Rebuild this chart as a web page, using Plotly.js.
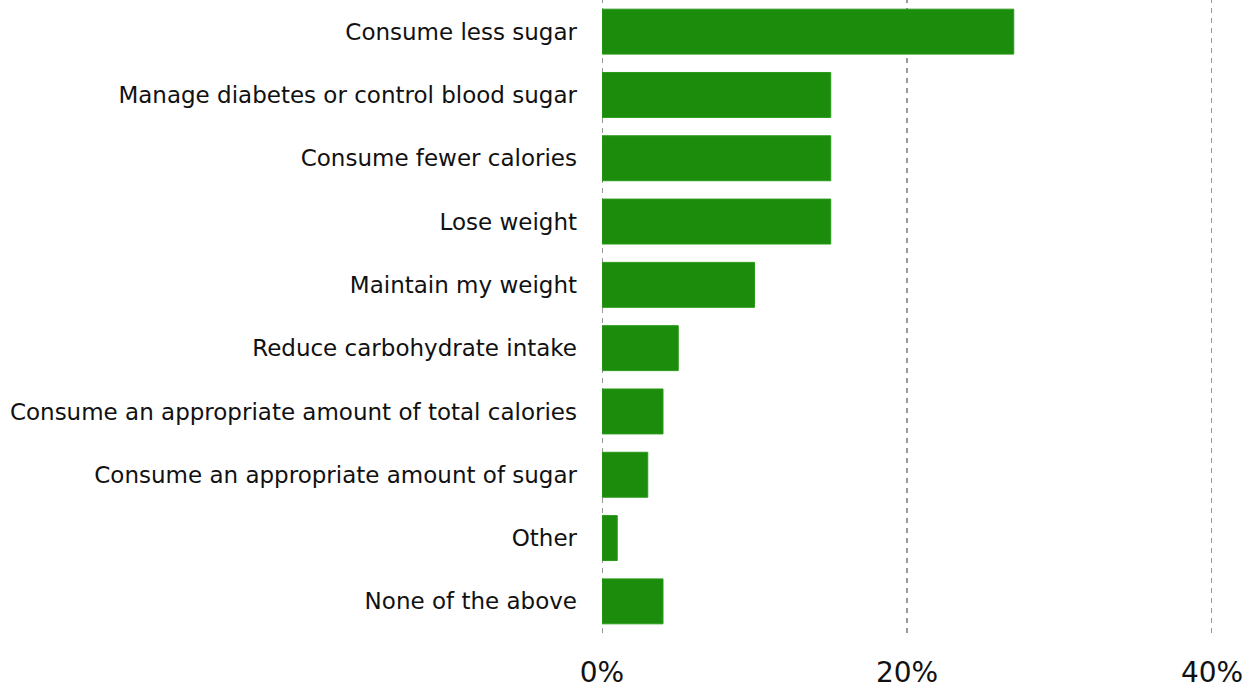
<!DOCTYPE html>
<html>
<head>
<meta charset="utf-8">
<script src="https://cdn.plot.ly/plotly-3.0.1.min.js"></script>
<style>html,body{margin:0;padding:0;background:#fff;}#chart{width:1247px;height:691px;}</style>
</head>
<body>
<div id="chart"></div>
<script>
const categories = [
  "Consume less sugar",
  "Manage diabetes or control blood sugar",
  "Consume fewer calories",
  "Lose weight",
  "Maintain my weight",
  "Reduce carbohydrate intake",
  "Consume an appropriate amount of total calories",
  "Consume an appropriate amount of sugar",
  "Other",
  "None of the above"
];
const values = [27, 15, 15, 15, 10, 5, 4, 3, 1, 4];
const tickVals = [0, 20, 40];
const tickText = ["0%", "20%", "40%"];

const trace = {
  type: 'bar',
  orientation: 'h',
  y: categories,
  x: values,
  marker: {color: '#1b8c0b', line: {color: '#2a9a1a', width: 1}},
  hoverinfo: 'x+y'
};

const gridShapes = tickVals.map(v => ({
  type: 'line', xref: 'x', yref: 'paper',
  x0: v, x1: v, y0: 0, y1: 1,
  layer: 'below',
  line: {color: '#999999', width: 2, dash: '5px,5px'}
}));

const layout = {
  width: 1247, height: 691,
  margin: {l: 602, r: 35, t: 0, b: 58},
  paper_bgcolor: '#fff', plot_bgcolor: '#fff',
  bargap: 0.29,
  showlegend: false,
  shapes: gridShapes,
  xaxis: {
    range: [0, 40],
    tickvals: tickVals,
    ticktext: tickText,
    showgrid: false,
    zeroline: false,
    showline: false,
    ticks: '',
    ticklabelstandoff: 20,
    tickfont: {family: '"DejaVu Sans", sans-serif', size: 28, color: '#111'},
    fixedrange: true
  },
  yaxis: {
    autorange: 'reversed',
    showgrid: false,
    zeroline: false,
    showline: false,
    ticks: '',
    ticklabelstandoff: 24,
    tickfont: {family: '"DejaVu Sans", Tahoma, sans-serif', size: 23, color: '#111'},
    fixedrange: true
  }
};

Plotly.newPlot('chart', [trace], layout, {displayModeBar: false, staticPlot: true});
</script>
</body>
</html>
